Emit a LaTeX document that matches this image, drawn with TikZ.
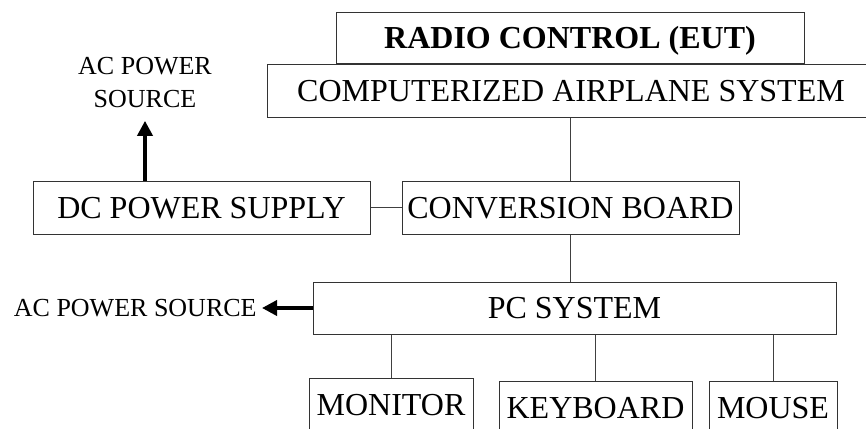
\documentclass[tikz,border=0pt]{standalone}
\usepackage{fontspec}
\setmainfont{Liberation Serif}
\usetikzlibrary{arrows.meta}

\begin{document}
\begin{tikzpicture}[x=0.5pt, y=-0.5pt,
  box/.style={draw=black!80, line width=0.5pt, fill=white, inner sep=0pt,
    minimum height=26.5pt, text height=10.6pt, text depth=0pt,
    font=\fontsize{16}{19}\selectfont},
  lbl/.style={inner sep=0pt, font=\fontsize{13}{16.2}\selectfont},
  link/.style={draw=black!75, line width=0.5pt},
  pow/.style={line width=1.8pt, -{Triangle[length=7.5pt, width=7.5pt]}}]
\useasboundingbox (0,0) rectangle (866,428);

\node[box, minimum width=234pt, minimum height=25.5pt, font=\bfseries\fontsize{16}{19}\selectfont] (radio) at (570,37.5) {RADIO CONTROL (EUT)};
\node[box, minimum width=304pt] (plane) at (571,90.5) {COMPUTERIZED AIRPLANE SYSTEM};

\node[box, minimum width=168.5pt] (dc) at (201.5,207.5) {DC POWER SUPPLY};
\node[box, minimum width=168.5pt] (conv) at (570.5,207.5) {CONVERSION BOARD};

\node[box, minimum width=261.5pt, minimum height=26pt] (pc) at (574.5,308) {PC SYSTEM};

\node[box, minimum width=82pt] (mon) at (391,404.5) {MONITOR};
\node[box, minimum width=96.5pt] (kbd) at (595.5,407.5) {KEYBOARD};
\node[box, minimum width=64pt] (mouse) at (773,407.5) {MOUSE};

% power labels
\node[lbl, align=center] (acup) at (145,82.5) {AC POWER\\SOURCE};
\node[lbl, anchor=east, text height=8.6pt, text depth=0pt] (acpc) at (257,308) {AC POWER SOURCE};

% Cables between the units
\draw[link] (plane.south -| conv.north) -- (conv.north);
\draw[link] (conv.south) -- (conv.south |- pc.north);
\draw[link] (dc.east) -- (conv.west);
\draw[link] (pc.south -| mon.north) -- (mon.north);
\draw[link] (pc.south -| kbd.north) -- (kbd.north);
\draw[link] (pc.south -| mouse.north) -- (mouse.north);

\draw[pow, shorten >=6.5pt] (dc.north -| acup.south) -- (acup.south);
\draw[pow, shorten >=2.5pt] (pc.west) -- (acpc.east);

\end{tikzpicture}
\end{document}
